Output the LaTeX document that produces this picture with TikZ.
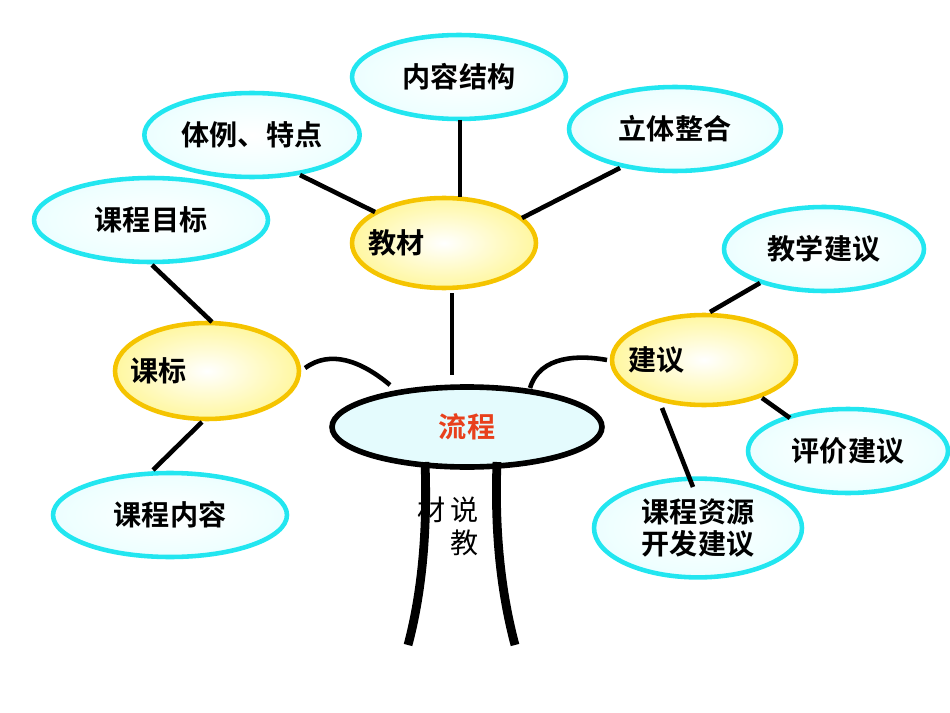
\documentclass[tikz,border=0pt]{standalone}
\usepackage{fontspec}
\setmainfont{Noto Sans CJK SC}[BoldFont={* Bold}]
\usetikzlibrary{shapes.geometric}
\definecolor{cyb}{HTML}{22E6F0}
\definecolor{cyf}{HTML}{E4FBFD}
\definecolor{yb}{HTML}{F5C400}
\definecolor{yf}{HTML}{FFF7A0}
\definecolor{rd}{HTML}{E8401C}
\begin{document}
\begin{tikzpicture}[x=0.02cm,y=-0.02cm,
  leaf/.style={ellipse,draw=cyb,line width=2.6pt,inner color=white,outer color=cyf!70!cyan!20,font=\bfseries\fontsize{16}{19}\selectfont,align=center},
  hub/.style={ellipse,draw=yb,line width=2.6pt,inner color=white,outer color=yf,minimum width=3.68cm},
  hubtext/.style={font=\bfseries\fontsize{16}{19}\selectfont,anchor=west},
  link/.style={line width=2.6pt,black}]
\useasboundingbox (0,0) rectangle (950,713);
\node[leaf,minimum width=4.28cm,minimum height=1.68cm] (nr) at (459,77) {内容结构};
\node[leaf,minimum width=4.28cm,minimum height=1.68cm] (tl) at (252,135) {体例、特点};
\node[leaf,minimum width=4.24cm,minimum height=1.68cm] (lt) at (675,129) {立体整合};
\node[leaf,minimum width=4.68cm,minimum height=1.68cm] (mb) at (151,220) {课程目标};
\node[hub,minimum height=1.8cm] (jc) at (444,243) {};
\node[hubtext] (jct) at (362,243) {教材};
\node[leaf,minimum width=4.0cm,minimum height=1.68cm] (jx) at (824,249) {教学建议};
\node[hub,minimum height=1.92cm] (kb) at (207,371) {};
\node[hubtext] (kbt) at (124,371) {课标};
\node[hub,minimum height=1.8cm] (jy) at (704,360) {};
\node[hubtext] (jyt) at (622,360) {建议};
\node[ellipse,draw=black,line width=3.2pt,fill=cyf,minimum width=5.4cm,minimum height=1.6cm,font=\bfseries\fontsize{16}{19}\selectfont,text=rd] (lc) at (467,427) {流程};
\node[leaf,minimum width=4.0cm,minimum height=1.68cm] (pj) at (848,451) {评价建议};
\node[leaf,minimum width=4.68cm,minimum height=1.68cm] (nrr) at (170,515) {课程内容};
\node[leaf,minimum width=4.16cm,minimum height=1.8cm,font=\bfseries\fontsize{16}{18}\selectfont] (zy) at (698,528) {课程资源\\开发建议};
\draw[link] (460,120) -- (460,197);
\draw[link] (300,175) -- (375,212);
\draw[link] (620,168) -- (522,218);
\draw[link] (452,293) -- (452,375);
\draw[link] (152,265) -- (212,322);
\draw[link] (202,422) -- (153,470);
\draw[link] (305,368) .. controls (330,350) and (360,360) .. (390,385);
\draw[link] (607,360) .. controls (580,355) and (540,355) .. (530,388);
\draw[link] (710,312) -- (760,283);
\draw[link] (762,398) -- (790,418);
\draw[link] (662,408) -- (693,487);
\draw[line width=5pt] (425,462) .. controls (428,540) and (420,600) .. (408,645);
\draw[line width=5pt] (497,462) .. controls (494,540) and (503,600) .. (515,645);
\node[font=\fontsize{16}{19}\selectfont] (t1) at (432,510) {材};
\node[font=\fontsize{16}{19}\selectfont] (t2) at (465,510) {说};
\node[font=\fontsize{16}{19}\selectfont] (t3) at (465,543) {教};
\end{tikzpicture}
\end{document}
